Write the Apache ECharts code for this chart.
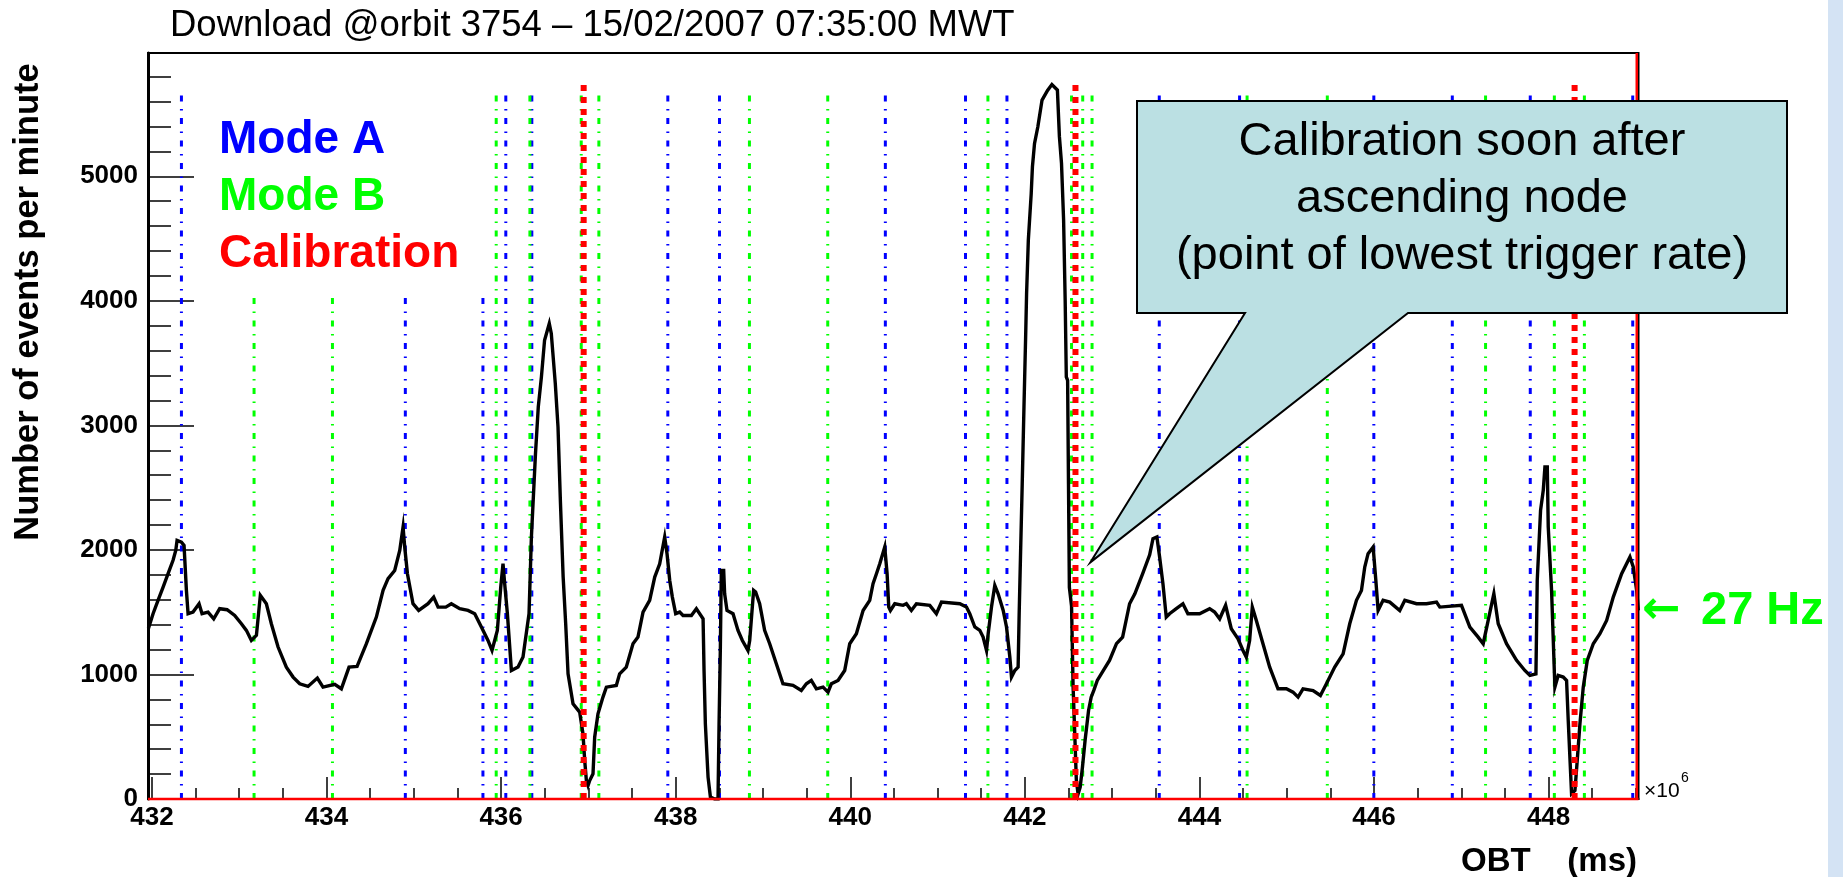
<!DOCTYPE html>
<html>
<head>
<meta charset="utf-8">
<script src="https://cdn.jsdelivr.net/npm/echarts@6/dist/echarts.min.js"></script>
<style>
html,body{margin:0;padding:0;background:#fff;}
#c{width:1843px;height:877px;}
</style>
</head>
<body>
<div id="c"></div>
<script>
// ---------------- DATA ----------------
const chartTitle = 'Download @orbit 3754 \u2013 15/02/2007 07:35:00 MWT';
const yTitle = 'Number of events per minute';
const xTitle = 'OBT    (ms)';
const xExponent = '\u00d710';
const xExponentPower = '6';
// OBT in units of 10^6 ms
const obt = [431.96,432.013,432.07,432.128,432.185,432.242,432.273,432.288,432.338,432.368,
432.395,432.414,432.471,432.54,432.574,432.643,432.708,432.776,432.861,432.948,
433.025,433.082,433.139,433.197,433.242,433.311,433.368,433.445,433.54,433.617,
433.693,433.788,433.895,433.96,434.094,434.17,434.258,434.35,434.457,434.571,
434.648,434.705,434.781,434.839,434.877,434.896,434.927,434.991,435.056,435.163,
435.228,435.278,435.366,435.43,435.526,435.621,435.698,435.774,435.85,435.896,
435.957,435.996,436.022,436.041,436.072,436.118,436.194,436.251,436.32,436.347,
436.394,436.426,436.462,436.498,436.552,436.575,436.621,436.652,436.679,436.711,
436.74,436.767,436.824,436.9,436.938,436.958,436.977,436.996,437.015,437.053,
437.072,437.11,437.167,437.206,437.32,437.358,437.434,437.511,437.568,437.626,
437.702,437.76,437.817,437.874,437.901,437.932,437.962,438.0,438.046,438.084,
438.18,438.237,438.314,438.325,438.34,438.371,438.398,438.447,438.485,438.497,
438.512,438.523,438.55,438.561,438.588,438.657,438.714,438.764,438.828,438.848,
438.893,438.916,438.962,439.019,439.077,439.153,439.229,439.344,439.439,439.497,
439.554,439.612,439.688,439.745,439.783,439.86,439.936,439.994,440.07,440.147,
440.223,440.261,440.3,440.338,440.395,440.422,440.441,440.46,440.51,440.605,
440.643,440.7,440.758,440.911,440.987,441.045,441.255,441.331,441.369,441.427,
441.484,441.522,441.561,441.58,441.618,441.656,441.694,441.752,441.79,441.828,
441.847,441.885,441.923,441.935,441.95,441.97,441.99,442.01,442.02,442.04,
442.073,442.087,442.111,442.149,442.197,442.26,442.31,442.373,442.396,442.42,
442.444,442.462,442.475,442.49,442.5,442.51,442.535,442.553,442.572,442.59,
442.61,442.634,442.66,442.69,442.73,442.76,442.79,442.83,442.9,442.97,
443.05,443.12,443.2,443.26,443.35,443.43,443.468,443.513,443.544,443.582,
443.62,443.658,443.735,443.811,443.868,444.002,444.117,444.174,444.232,444.3,
444.365,444.442,444.499,444.537,444.575,444.606,444.652,444.728,444.805,444.9,
444.996,445.072,445.13,445.187,445.302,445.386,445.455,445.55,445.646,445.722,
445.799,445.856,445.894,445.932,445.99,446.021,446.047,446.104,446.181,446.295,
446.353,446.487,446.601,446.716,446.754,447.002,447.098,447.193,447.251,447.308,
447.373,447.423,447.518,447.633,447.728,447.786,447.855,447.87,447.908,447.939,
447.958,447.985,447.996,448.034,448.072,448.11,448.168,448.206,448.225,448.244,
448.263,448.302,448.328,448.359,448.397,448.443,448.512,448.588,448.665,448.741,
448.837,448.932,448.97,449.009,449.028];
// events per minute
const rate = [1370,1488,1595,1702,1810,1917,1996,2077,2063,2037,
1675,1488,1501,1568,1488,1501,1447,1528,1520,1474,
1407,1354,1273,1314,1635,1568,1407,1220,1059,979,
925,904,971,898,920,885,1059,1065,1247,1461,
1675,1769,1835,1996,2184,2023,1809,1568,1514,1568,
1621,1541,1541,1568,1528,1514,1488,1381,1273,1193,
1354,1702,1889,1729,1488,1032,1059,1140,1488,2100,
2773,3148,3389,3684,3818,3738,3336,2987,2398,1782,
1407,1005,765,698,524,309,148,108,148,202,
496,684,818,898,912,1005,1059,1247,1300,1501,
1595,1782,1889,2104,1969,1755,1621,1488,1501,1474,
1474,1528,1447,1032,604,176,15,0,0,604,
1220,1836,1836,1648,1514,1488,1354,1273,1193,1273,
1675,1662,1568,1354,1247,1086,925,912,871,925,
952,885,898,858,925,952,1032,1247,1327,1514,
1595,1729,1809,1889,2023,1809,1541,1514,1568,1555,
1568,1514,1568,1555,1488,1581,1568,1541,1488,1381,
1354,1300,1193,1327,1541,1715,1648,1514,1381,1140,
979,1032,1059,1488,1943,2532,3148,3738,4059,4487,
4862,5077,5264,5398,5612,5690,5737,5693,5318,5104,
4649,4005,3389,3362,2532,1700,1550,900,520,150,
40,95,255,470,711,818,872,952,1032,1113,
1247,1300,1568,1648,1809,1960,2090,2104,1943,1729,
1461,1488,1528,1568,1488,1488,1528,1501,1447,1555,
1367,1287,1193,1140,1273,1541,1434,1247,1059,885,
885,858,818,885,871,831,925,1059,1166,1407,
1595,1675,1863,1970,2023,1755,1514,1595,1581,1514,
1595,1568,1568,1581,1541,1555,1381,1300,1247,1434,
1648,1407,1247,1113,1032,992,1005,1755,2318,2479,
2666,2666,2184,1675,898,992,979,952,630,336,
42,68,309,604,898,1113,1247,1327,1434,1621,
1809,1943,1863,1675,1514];
// mode switch times (10^6 ms)
const modeA = [432.338,434.903,435.792,436.054,436.352,437.91,438.502,440.402,441.32,441.795,443.54,444.46,445.998,446.897,447.79,448.964];
const modeB = [433.17,434.068,435.944,436.33,436.918,437.12,438.845,439.742,441.577,442.535,442.663,442.77,444.546,445.465,447.278,448.066,448.41];
const calibration = [436.946,442.58,448.298];
// legend / annotation texts
const legendTexts = ['Mode A','Mode B','Calibration'];
const calloutText = 'Calibration soon after\nascending node\n(point of lowest trigger rate)';
const calloutTarget = [442.75, 1900];
const rateArrow = '\u2190';
const rateLabel = '27 Hz';
// ticks
const xMajorTicks = [432,434,436,438,440,442,444,446,448];
const xMinorTicks = [432.5,433,433.5,434.5,435,435.5,436.5,437,437.5,438.5,439,439.5,440.5,441,441.5,442.5,443,443.5,444.5,445,445.5,446.5,447,447.5,448.5,449];
const yMajorTicks = [0,1000,2000,3000,4000,5000];
const yMinorTicks = [200,400,600,800,1200,1400,1600,1800,2200,2400,2600,2800,3200,3400,3600,3800,4200,4400,4600,4800,5200,5400,5600,5800];

// ---------------- STYLE ----------------
const FONT = '"Liberation Sans", Arial, Helvetica, sans-serif';
const X_MIN = 431.955, X_MAX = 449.03, Y_MIN = 0, Y_MAX = 5990;
const LINE_TOP = 5700, CAL_TOP = 5750;
const BLUE = '#0000ff', GREEN = '#00ff00', RED = '#ff0000';

function vertSegments(xs, top) {
  const out = [];
  xs.forEach(x => { out.push([x, 0]); out.push([x, top]); out.push([x, null]); });
  return out;
}

const curve = obt.map((x, i) => [x, rate[i]]);

const chart = echarts.init(document.getElementById('c'), null, {renderer: 'canvas'});

const option = {
  animation: false,
  backgroundColor: '#ffffff',
  title: {
    text: chartTitle, left: 170, top: 7, padding: 0,
    textStyle: {fontFamily: FONT, fontSize: 36.5, fontWeight: 'normal', color: '#000'}
  },
  grid: {left: 148, right: 204.5, top: 53, bottom: 78, show: true, borderColor: '#000', borderWidth: 2, backgroundColor: 'transparent'},
  xAxis: [
    {
      type: 'value', min: X_MIN, max: X_MAX, position: 'bottom',
      axisLine: {show: true, onZero: false, lineStyle: {color: '#000', width: 2}},
      axisTick: {show: true, inside: true, length: 22, customValues: xMajorTicks, lineStyle: {color: '#000', width: 1.5}},
      axisLabel: {show: true, customValues: xMajorTicks, margin: 6, formatter: v => String(v),
                  fontFamily: FONT, fontSize: 26, fontWeight: 'bold', color: '#000'},
      splitLine: {show: false}
    },
    {
      type: 'value', min: X_MIN, max: X_MAX, position: 'bottom',
      axisLine: {show: false},
      axisTick: {show: true, inside: true, length: 11, customValues: xMinorTicks, lineStyle: {color: '#000', width: 1.5}},
      axisLabel: {show: false},
      splitLine: {show: false}
    }
  ],
  yAxis: [
    {
      type: 'value', min: Y_MIN, max: Y_MAX, position: 'left',
      axisLine: {show: true, onZero: false, lineStyle: {color: '#000', width: 3}},
      axisTick: {show: true, inside: true, length: 46, customValues: yMajorTicks, lineStyle: {color: '#000', width: 1.5}},
      axisLabel: {show: true, customValues: yMajorTicks, margin: 10, formatter: v => String(v),
                  fontFamily: FONT, fontSize: 26, fontWeight: 'bold', color: '#000'},
      splitLine: {show: false}
    },
    {
      type: 'value', min: Y_MIN, max: Y_MAX, position: 'left',
      axisLine: {show: false},
      axisTick: {show: true, inside: true, length: 23, customValues: yMinorTicks, lineStyle: {color: '#000', width: 1.5}},
      axisLabel: {show: false},
      splitLine: {show: false}
    }
  ],
  series: [
    {
      name: 'Mode A', type: 'line', xAxisIndex: 0, yAxisIndex: 0, z: 1, silent: true,
      data: vertSegments(modeA, LINE_TOP), showSymbol: false, symbol: 'none', connectNulls: false,
      lineStyle: {color: BLUE, width: 3, type: [6, 7.5, 1.5, 7.5]}
    },
    {
      name: 'Mode B', type: 'line', xAxisIndex: 0, yAxisIndex: 0, z: 1, silent: true,
      data: vertSegments(modeB, LINE_TOP), showSymbol: false, symbol: 'none', connectNulls: false,
      lineStyle: {color: GREEN, width: 3, type: [6, 7.5, 1.5, 7.5]}
    },
    {
      name: 'rate', type: 'line', xAxisIndex: 0, yAxisIndex: 0, z: 3, silent: true,
      data: curve, showSymbol: false, symbol: 'none',
      lineStyle: {color: '#000', width: 3.4, join: 'miter'}
    },
    {
      name: 'Calibration', type: 'line', xAxisIndex: 0, yAxisIndex: 0, z: 4, silent: true,
      data: vertSegments(calibration, CAL_TOP), showSymbol: false, symbol: 'none', connectNulls: false,
      lineStyle: {color: RED, width: 6, type: [6, 6], cap: 'butt'}
    },
    {
      name: 'Calibration base', type: 'line', xAxisIndex: 0, yAxisIndex: 0, z: 4, silent: true, clip: false,
      data: [[X_MIN, 0], [X_MAX, 0], [X_MAX, null], [X_MAX - 0.02, 0], [X_MAX - 0.02, Y_MAX]],
      showSymbol: false, symbol: 'none', connectNulls: false,
      lineStyle: {color: RED, width: 2.5}
    }
  ]
};

chart.setOption(option);

const tip = chart.convertToPixel({gridIndex: 0}, calloutTarget);
const legendColors = [BLUE, GREEN, RED];

const graphics = [
  {type: 'rect', z: 100, shape: {x: 1828, y: 0, width: 15, height: 877}, style: {fill: '#d4e3f4'}},
  {type: 'rect', z: 100, shape: {x: 196, y: 95, width: 293, height: 198}, style: {fill: '#ffffff'}},
  {type: 'text', z: 101, x: 28, y: 302, rotation: Math.PI / 2,
   style: {text: yTitle, font: 'bold 34.5px ' + FONT, fill: '#000', textAlign: 'center', textVerticalAlign: 'middle', align: 'center', verticalAlign: 'middle'}},
  {type: 'text', z: 101, x: 1637, y: 862,
   style: {text: xTitle, font: 'bold 33px ' + FONT, fill: '#000', textAlign: 'right', textVerticalAlign: 'middle', align: 'right', verticalAlign: 'middle'}},
  {type: 'text', z: 101, x: 1644, y: 791,
   style: {text: xExponent, font: '21px ' + FONT, fill: '#000', textAlign: 'left', textVerticalAlign: 'middle', align: 'left', verticalAlign: 'middle'}},
  {type: 'text', z: 101, x: 1681, y: 778,
   style: {text: xExponentPower, font: '14px ' + FONT, fill: '#000', textAlign: 'left', textVerticalAlign: 'middle', align: 'left', verticalAlign: 'middle'}},
  {type: 'text', z: 101, x: 1642, y: 611,
   style: {text: rateArrow, font: 'bold 46px "DejaVu Sans", sans-serif', fill: GREEN, textAlign: 'left', textVerticalAlign: 'middle', align: 'left', verticalAlign: 'middle'}},
  {type: 'text', z: 101, x: 1701, y: 611,
   style: {text: rateLabel, font: 'bold 47px ' + FONT, fill: GREEN, textAlign: 'left', textVerticalAlign: 'middle', align: 'left', verticalAlign: 'middle'}},
  {type: 'polygon', z: 102,
   shape: {points: [[1137, 101], [1787, 101], [1787, 313], [1408, 313], [tip[0], tip[1]], [1245, 313], [1137, 313]]},
   style: {fill: '#bbe0e3', stroke: '#000', lineWidth: 2}},
  {type: 'text', z: 103, x: 1462, y: 199,
   style: {text: calloutText, font: '47px ' + FONT, fill: '#000', textAlign: 'center', textVerticalAlign: 'middle', align: 'center', verticalAlign: 'middle', lineHeight: 57}}
];
legendTexts.forEach((t, i) => {
  graphics.push({type: 'text', z: 101, x: 219, y: 140 + i * 57,
    style: {text: t, font: 'bold 46px ' + FONT, fill: legendColors[i], textAlign: 'left', textVerticalAlign: 'middle', align: 'left', verticalAlign: 'middle'}});
});

chart.setOption({graphic: {elements: graphics}});
</script>
</body>
</html>
